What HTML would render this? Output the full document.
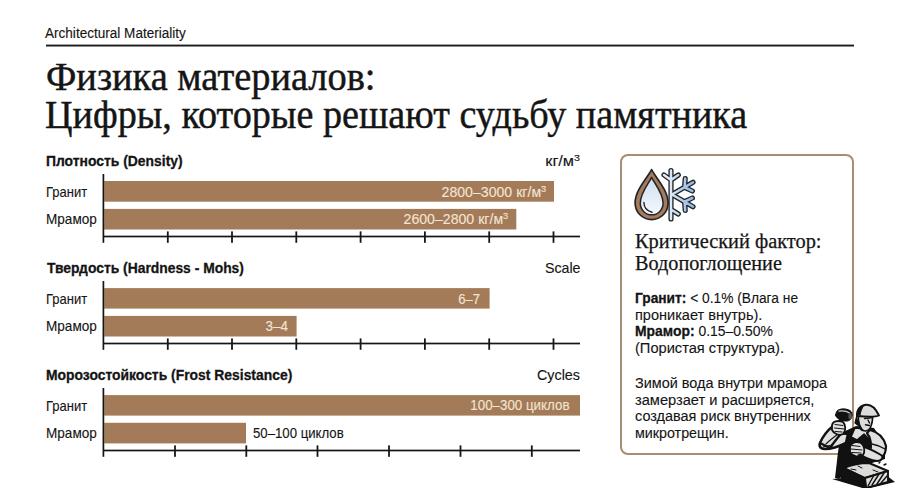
<!DOCTYPE html>
<html><head><meta charset="utf-8">
<style>
html,body{margin:0;padding:0;background:#fff;}
body{width:900px;height:488px;position:relative;overflow:hidden;font-family:"Liberation Sans",sans-serif;color:#1c1c1c;}
.a{position:absolute;white-space:nowrap;line-height:1;-webkit-text-stroke:0.12px currentColor;}
#t1,#t2{-webkit-text-stroke:0.45px currentColor;}
#c1h,#c2h,#c3h,b{-webkit-text-stroke:0.3px currentColor;}
#k1,#k2{-webkit-text-stroke:0.25px currentColor;}
.sup{font-size:0.66em;vertical-align:0.5em;line-height:0;}
.bar{position:absolute;background:#a47b58;}
.k{position:absolute;background:#161616;}
.tk{position:absolute;background:#161616;width:2px;height:11.4px;}
.card{position:absolute;left:620px;top:154px;width:230px;height:297px;border:2px solid #a88d73;border-radius:8px;}
</style></head>
<body>
<svg style="position:absolute;left:0;top:0;" width="900" height="488" viewBox="0 0 900 488">
<rect x="46" y="44.6" width="808" height="1.9" fill="#1a1a1a"/>
<rect x="104.2" y="181" width="449.8" height="20.7" fill="#a47b58"/>
<rect x="104.2" y="208.9" width="412.1" height="20.6" fill="#a47b58"/>
<rect x="102.55" y="174" width="1.7" height="68.8" fill="#161616"/>
<rect x="103" y="235.65" width="477" height="1.7" fill="#161616"/>
<rect x="166.90" y="231.4" width="1.8" height="11.4" fill="#161616"/>
<rect x="231.10" y="231.4" width="1.8" height="11.4" fill="#161616"/>
<rect x="295.40" y="231.4" width="1.8" height="11.4" fill="#161616"/>
<rect x="359.70" y="231.4" width="1.8" height="11.4" fill="#161616"/>
<rect x="424.00" y="231.4" width="1.8" height="11.4" fill="#161616"/>
<rect x="488.30" y="231.4" width="1.8" height="11.4" fill="#161616"/>
<rect x="552.60" y="231.4" width="1.8" height="11.4" fill="#161616"/>
<rect x="104.2" y="288.1" width="385.4" height="20.5" fill="#a47b58"/>
<rect x="104.2" y="315.9" width="192.4" height="20.6" fill="#a47b58"/>
<rect x="102.55" y="281" width="1.7" height="68.8" fill="#161616"/>
<rect x="103" y="342.65" width="477" height="1.7" fill="#161616"/>
<rect x="166.90" y="338.4" width="1.8" height="11.4" fill="#161616"/>
<rect x="231.10" y="338.4" width="1.8" height="11.4" fill="#161616"/>
<rect x="295.40" y="338.4" width="1.8" height="11.4" fill="#161616"/>
<rect x="359.70" y="338.4" width="1.8" height="11.4" fill="#161616"/>
<rect x="424.00" y="338.4" width="1.8" height="11.4" fill="#161616"/>
<rect x="488.30" y="338.4" width="1.8" height="11.4" fill="#161616"/>
<rect x="552.60" y="338.4" width="1.8" height="11.4" fill="#161616"/>
<rect x="104.2" y="395.1" width="475.8" height="20.5" fill="#a47b58"/>
<rect x="104.2" y="422.8" width="141.8" height="20.6" fill="#a47b58"/>
<rect x="102.55" y="388" width="1.7" height="68.8" fill="#161616"/>
<rect x="103" y="449.65" width="477" height="1.7" fill="#161616"/>
<rect x="174.10" y="445.4" width="1.8" height="11.4" fill="#161616"/>
<rect x="245.40" y="445.4" width="1.8" height="11.4" fill="#161616"/>
<rect x="316.60" y="445.4" width="1.8" height="11.4" fill="#161616"/>
<rect x="388.10" y="445.4" width="1.8" height="11.4" fill="#161616"/>
<rect x="459.60" y="445.4" width="1.8" height="11.4" fill="#161616"/>
<rect x="530.90" y="445.4" width="1.8" height="11.4" fill="#161616"/>
</svg>
<!-- card -->
<div class="card"></div>
<!--ICON-->
<svg style="position:absolute;left:630px;top:165px;" width="70" height="60" viewBox="630 165 70 60">
<defs>
<linearGradient id="gs" x1="668" y1="0" x2="694" y2="0" gradientUnits="userSpaceOnUse"><stop offset="0" stop-color="#e6eff9"/><stop offset="1" stop-color="#8db4de"/></linearGradient>
<linearGradient id="gd" x1="0" y1="177" x2="0" y2="215" gradientUnits="userSpaceOnUse"><stop offset="0" stop-color="#cfdff0"/><stop offset="1" stop-color="#f4f8fc"/></linearGradient>
</defs>
<path d="M651.6 169.6 C648 177 635.1 190 635.1 203 A16.5 16.6 0 0 0 668.1 203 C668.1 190 655.2 177 651.6 169.6 Z" fill="#a57b5b" stroke="#22262b" stroke-width="1.7" stroke-linejoin="round"/>
<path d="M651.6 177.4 C649 183 640.3 193 640.3 203.2 A11.4 11.6 0 0 0 663.1 203.2 C663.1 193 654.2 183 651.6 177.4 Z" fill="url(#gd)" stroke="#22262b" stroke-width="1.5" stroke-linejoin="round"/>
<path d="M643.9 202.5 C644 207.5 647 211 652 212.3" fill="none" stroke="#22262b" stroke-width="1.4" stroke-linecap="round"/>
<g fill="none" stroke-linecap="round" stroke-linejoin="round">
<path id="sf" d="M671 170.5 V219 M671 180 L664 175 M671 180 L678.3 175 M671 209.5 L678.3 214 M672 194.5 L693 182.3 M684.6 187.3 L685.2 178.6 M684.6 187.3 L692.4 191 M672 194.5 L693 206.7 M684.6 201.7 L692.4 198 M684.6 201.7 L685.2 210.4" stroke="#22262b" stroke-width="5.2"/>
<path d="M671 170.5 V219 M671 180 L664 175 M671 180 L678.3 175 M671 209.5 L678.3 214 M672 194.5 L693 182.3 M684.6 187.3 L685.2 178.6 M684.6 187.3 L692.4 191 M672 194.5 L693 206.7 M684.6 201.7 L692.4 198 M684.6 201.7 L685.2 210.4" stroke="url(#gs)" stroke-width="2.5"/>
</g>
</svg>
<!--/ICON-->
<!--MASON-->
<svg style="position:absolute;left:815px;top:398px;" width="85" height="90" viewBox="815 398 85 90">
<g stroke="#111" stroke-linejoin="round" stroke-linecap="round">
<path d="M832 479 L866 489 L895 482 L886 475 Z" fill="#111" stroke="none"/>
<path d="M841 433 L856 426 L874 428 L885 445 L885 459 L872 463 L864 470 L850 469 L839 479 L835 478 L838 452 Z" fill="#111" stroke="none"/>
<path d="M848 434 C840 432 829 436 822 441 C818 444 819 449 825 449 C832 449 840 446 846 443 Z" fill="#e0e0de" stroke-width="2.6"/>
<path d="M820 443 C823 436 828 430 833 426 L844 430 C839 436 834 442 830 448 Z" fill="#e0e0de" stroke-width="2.4"/>
<path d="M826 444 C830 440 834 437 838 434 M823 447 L832 445" stroke-width="1.1" fill="none"/>
<path d="M841 419 L836 431" stroke-width="2.8" fill="none"/>
<path d="M837 411 C840 407.5 849 408.5 851.5 412 C853.5 415.5 851 420.5 847.5 421 C842 421.5 837 419 835.5 415.5 Z" fill="#111" stroke-width="1"/>
<path d="M839 411.2 C843 410.5 846.5 411 849.5 413" stroke="#d0d0d0" stroke-width="1.3" fill="none"/>
<ellipse cx="850.2" cy="416.3" rx="1.8" ry="3.2" fill="#555" stroke="none"/>
<path d="M832 426 C832 421 838 420 843 422 C846 425 846 431 843 434 C839 436 834 434 832 430 Z" fill="#e0e0de" stroke-width="1.8"/>
<path d="M835 424.5 L843 425.5 M834.5 428 L844 429 M835 431.5 L842 432" stroke-width="1" fill="none"/>
<path d="M855 428 L851 437 L857 440 L864 434 L870 440 L873 430 Z" fill="#e0e0de" stroke-width="1.5"/>
<path d="M858.5 415 L872.5 415 C873 419 872 424 870 428.5 C868.5 431 865 431.5 861.5 430 C859 426 858 421 858.5 415 Z" fill="#dcdcda" stroke-width="1.6"/>
<path d="M858.5 416 C859 423 861 428 865 431 L861 430 C858 426 857.5 421 858.5 416 Z" fill="#111" stroke="none"/>
<path d="M864.5 418.5 L871.5 417.8 M865.5 424.8 L869.5 425.5 M868 420 L869.5 423" stroke-width="1.4" fill="none"/>
<path d="M857 415 L855 423 L859 426" fill="#111" stroke-width="1.2"/>
<path d="M857 416 C856.5 410 860 405.5 866 404.8 C871 404.3 875 407 879 415.5 C875 417.5 866 416.8 857 416 Z" fill="#dcdcda" stroke-width="1.9"/>
<path d="M857 415 C857.5 409.5 860.5 406.5 864 405.8 C862 409 861 412 860.5 416 Z" fill="#111" stroke="none"/>
<path d="M870 430 C878 432 884 438 886 446 C886 452 884 456 881 458 L870 452 C872 446 871 438 867 433 Z" fill="#e0e0de" stroke-width="2.2"/>
<path d="M872 444 C877 445 882 447 885 449" stroke-width="1.3" fill="none"/>
<path d="M861 446 C868 448 876 452 881 455 C884 457 882 461 877 461 C871 460 864 457 859 454 Z" fill="#e0e0de" stroke-width="2"/>
<path d="M850 447 C851 442 857 441 861 443 C865 446 865 452 863 455 C859 458 853 457 850 452 Z" fill="#e0e0de" stroke-width="1.8"/>
<path d="M852 445.5 L860 446.5 M851 449 L862 450 M852 452.5 L861 453" stroke-width="1" fill="none"/>
<path d="M858 455 L861.5 454 L867 471 Z" fill="#111" stroke-width="1"/>
<path d="M844 468 C851 465 862 463 869 463 L888 471 L865 478 Z" fill="#dcdcda" stroke-width="1.9"/>
<path d="M865 478 L888 471 L888 482 L866 488 Z" fill="#dcdcda" stroke-width="1.9"/>
<path d="M844 468 L865 478 L866 488 L841 480 Z" fill="#111" stroke-width="1.5"/>
<path d="M868 486 L874 475 M872 485 L879 474 M877 484 L884 473 M881 483 L887 476" stroke-width="1.4" fill="none"/>
<path d="M851 469 L856 470 M858 466 L862 468 M873 470 L878 472" stroke-width="1" fill="none"/>
<path d="M879 463 L880 462 M884 465 L886 464" stroke-width="1.5" fill="none"/>
</g>
</svg>
<!--/MASON-->
<div class="a" id="hdr" style="top:25.60px;font-size:14px;font-family:'Liberation Sans',sans-serif;color:#141414;left:45.43px;transform:scaleX(0.9682);transform-origin:0 0;">Architectural Materiality</div>
<div class="a" id="t1" style="top:56.80px;font-size:40px;font-family:'Liberation Serif',serif;color:#151515;left:45.60px;transform:scaleX(0.9598);transform-origin:0 0;">Физика материалов:</div>
<div class="a" id="t2" style="top:94.80px;font-size:40px;font-family:'Liberation Serif',serif;color:#151515;left:45.23px;transform:scaleX(0.9534);transform-origin:0 0;">Цифры, которые решают судьбу памятника</div>
<div class="a" id="c1h" style="top:152.90px;font-size:15.5px;font-family:'Liberation Sans',sans-serif;color:#141414;font-weight:bold;left:45.99px;transform:scaleX(0.8961);transform-origin:0 0;">Плотность (Density)</div>
<div class="a" id="c1u" style="top:152.90px;font-size:15px;font-family:'Liberation Sans',sans-serif;color:#141414;right:319.92px;transform:scaleX(1.0852);transform-origin:100% 0;">кг/м<span class="sup">3</span></div>
<div class="a" id="c1g" style="top:183.60px;font-size:15px;font-family:'Liberation Sans',sans-serif;color:#141414;left:45.76px;transform:scaleX(0.8667);transform-origin:0 0;">Гранит</div>
<div class="a" id="c1m" style="top:211.10px;font-size:15px;font-family:'Liberation Sans',sans-serif;color:#141414;left:45.50px;transform:scaleX(0.9047);transform-origin:0 0;">Мрамор</div>
<div class="a" id="c1v1" style="top:183.70px;font-size:15px;font-family:'Liberation Sans',sans-serif;color:#f3e5d4;right:353.65px;transform:scaleX(0.9411);transform-origin:100% 0;">2800–3000 кг/м<span class="sup">3</span></div>
<div class="a" id="c1v2" style="top:210.70px;font-size:15px;font-family:'Liberation Sans',sans-serif;color:#f3e5d4;right:391.65px;transform:scaleX(0.9411);transform-origin:100% 0;">2600–2800 кг/м<span class="sup">3</span></div>
<div class="a" id="c2h" style="top:259.90px;font-size:15.5px;font-family:'Liberation Sans',sans-serif;color:#141414;font-weight:bold;left:46.95px;transform:scaleX(0.8941);transform-origin:0 0;">Твердость (Hardness - Mohs)</div>
<div class="a" id="c2u" style="top:259.70px;font-size:15px;font-family:'Liberation Sans',sans-serif;color:#141414;right:319.96px;transform:scaleX(0.9471);transform-origin:100% 0;">Scale</div>
<div class="a" id="c2g" style="top:290.60px;font-size:15px;font-family:'Liberation Sans',sans-serif;color:#141414;left:45.76px;transform:scaleX(0.8667);transform-origin:0 0;">Гранит</div>
<div class="a" id="c2m" style="top:318.10px;font-size:15px;font-family:'Liberation Sans',sans-serif;color:#141414;left:45.50px;transform:scaleX(0.9047);transform-origin:0 0;">Мрамор</div>
<div class="a" id="c2v1" style="top:290.60px;font-size:15px;font-family:'Liberation Sans',sans-serif;color:#f3e5d4;right:419.85px;transform:scaleX(0.8751);transform-origin:100% 0;">6–7</div>
<div class="a" id="c2v2" style="top:318.30px;font-size:15px;font-family:'Liberation Sans',sans-serif;color:#f3e5d4;right:611.74px;transform:scaleX(0.8952);transform-origin:100% 0;">3–4</div>
<div class="a" id="c3h" style="top:366.90px;font-size:15.5px;font-family:'Liberation Sans',sans-serif;color:#141414;font-weight:bold;left:46.39px;transform:scaleX(0.8962);transform-origin:0 0;">Морозостойкость (Frost Resistance)</div>
<div class="a" id="c3u" style="top:366.50px;font-size:15px;font-family:'Liberation Sans',sans-serif;color:#141414;right:320.13px;transform:scaleX(0.9572);transform-origin:100% 0;">Cycles</div>
<div class="a" id="c3g" style="top:397.60px;font-size:15px;font-family:'Liberation Sans',sans-serif;color:#141414;left:45.76px;transform:scaleX(0.8667);transform-origin:0 0;">Гранит</div>
<div class="a" id="c3m" style="top:425.10px;font-size:15px;font-family:'Liberation Sans',sans-serif;color:#141414;left:45.50px;transform:scaleX(0.9047);transform-origin:0 0;">Мрамор</div>
<div class="a" id="c3v1" style="top:397.20px;font-size:15px;font-family:'Liberation Sans',sans-serif;color:#f3e5d4;right:330.48px;transform:scaleX(0.8893);transform-origin:100% 0;">100–300 циклов</div>
<div class="a" id="c3v2" style="top:425.00px;font-size:15px;font-family:'Liberation Sans',sans-serif;color:#141414;left:253.06px;transform:scaleX(0.8790);transform-origin:0 0;">50–100 циклов</div>
<div class="a" id="k1" style="top:231.30px;font-size:20px;font-family:'Liberation Serif',serif;color:#151515;left:634.61px;transform:scaleX(1.0176);transform-origin:0 0;">Критический фактор:</div>
<div class="a" id="k2" style="top:252.70px;font-size:20px;font-family:'Liberation Serif',serif;color:#151515;left:634.61px;transform:scaleX(1.0106);transform-origin:0 0;">Водопоглощение</div>
<div class="a" id="p1" style="top:290.10px;font-size:15.1px;font-family:'Liberation Sans',sans-serif;color:#141414;left:635.42px;transform:scaleX(0.9107);transform-origin:0 0;"><b>Гранит:</b> &lt; 0.1% (Влага не</div>
<div class="a" id="p2" style="top:306.60px;font-size:15.1px;font-family:'Liberation Sans',sans-serif;color:#141414;left:635.42px;transform:scaleX(0.9620);transform-origin:0 0;">проникает внутрь).</div>
<div class="a" id="p3" style="top:323.30px;font-size:15.1px;font-family:'Liberation Sans',sans-serif;color:#141414;left:635.42px;transform:scaleX(0.9222);transform-origin:0 0;"><b>Мрамор:</b> 0.15–0.50%</div>
<div class="a" id="p4" style="top:339.60px;font-size:15.1px;font-family:'Liberation Sans',sans-serif;color:#141414;left:635.42px;transform:scaleX(0.9697);transform-origin:0 0;">(Пористая структура).</div>
<div class="a" id="q1" style="top:375.20px;font-size:15.1px;font-family:'Liberation Sans',sans-serif;color:#141414;left:635.42px;transform:scaleX(0.9563);transform-origin:0 0;">Зимой вода внутри мрамора</div>
<div class="a" id="q2" style="top:391.70px;font-size:15.1px;font-family:'Liberation Sans',sans-serif;color:#141414;left:635.42px;transform:scaleX(0.9692);transform-origin:0 0;">замерзает и расширяется,</div>
<div class="a" id="q3" style="top:408.00px;font-size:15.1px;font-family:'Liberation Sans',sans-serif;color:#141414;left:635.42px;transform:scaleX(0.9564);transform-origin:0 0;">создавая риск внутренних</div>
<div class="a" id="q4" style="top:424.50px;font-size:15.1px;font-family:'Liberation Sans',sans-serif;color:#141414;left:635.42px;transform:scaleX(0.9462);transform-origin:0 0;">микротрещин.</div>
</body></html>
